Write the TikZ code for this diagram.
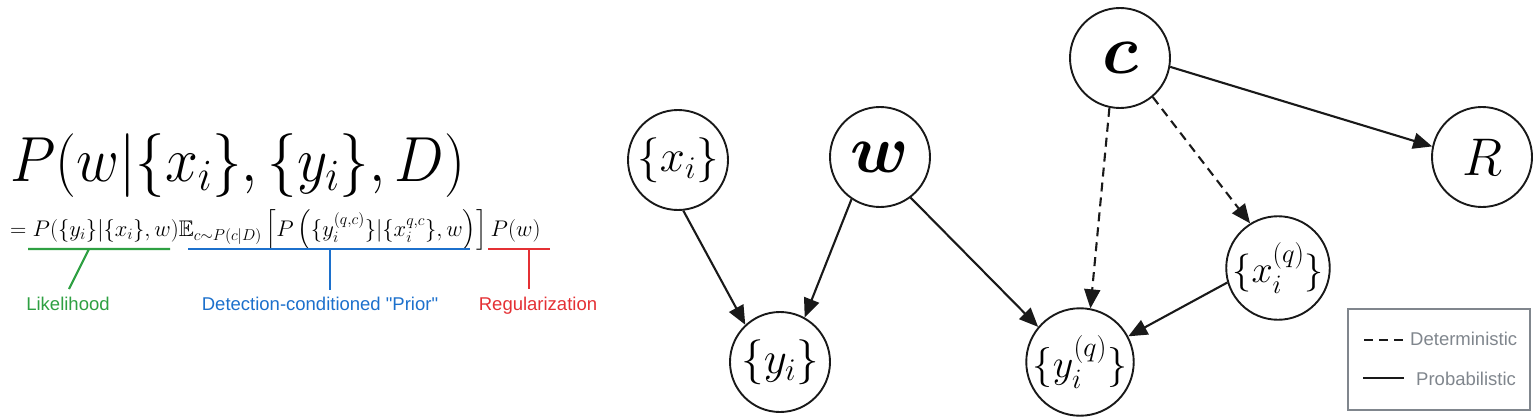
\RequirePackage{fix-cm}
\documentclass[tikz,border=0pt]{standalone}
\usepackage{amsmath,amssymb,bm}
\usepackage{fontspec}
\newfontfamily\lsans{Liberation Sans}
\usetikzlibrary{arrows.meta}
\definecolor{lgreen}{RGB}{46,160,66}
\definecolor{lblue}{RGB}{28,112,204}
\definecolor{lred}{RGB}{228,48,52}
\definecolor{lgray}{RGB}{128,134,141}
\definecolor{ink}{RGB}{25,25,25}
\tikzset{
  var/.style={circle,draw=ink,line width=1.9pt,minimum size=100pt,inner sep=0pt},
  arr/.style={draw=ink,line width=2.1pt,-{Triangle[length=19pt,width=16pt]}},
  detarr/.style={arr,dash pattern=on 9pt off 6pt},
  lbl/.style={font=\lsans\fontsize{18.5}{20}\selectfont,inner sep=0pt,anchor=base},
  brk/.style={line width=2.2pt}
}
\begin{document}
\begin{tikzpicture}[x=1pt,y=-1pt]
\path[use as bounding box] (0,0) rectangle (1540,420);
% formula
\node[anchor=base west,inner sep=0pt] (f1) at (10,181)
  {\scalebox{1}[1.08]{\fontsize{59}{62}\selectfont$P(w|\{x_i\},\{y_i\},D)$}};
\node[anchor=base west,inner sep=0pt] (f2) at (10,236)
  {\fontsize{22.6}{25}\selectfont$=P(\{y_i\}|\{x_i\},w)\mathbb{E}_{c\sim P(c|D)}\left[P\left(\{y_i^{(q,c)}\}|\{x_i^{q,c}\},w\right)\right]P(w)$};
% brackets
\coordinate (g1) at (28,249); \coordinate (g2) at (170,249);
\coordinate (gm) at (89,249); \coordinate (gl) at (69,289);
\draw[brk,lgreen] (g1) -- (g2) (gm) -- (gl);
\node[lbl,text=lgreen] (likel) at (68,310) {Likelihood};
\coordinate (b1) at (188,249); \coordinate (b2) at (470,249);
\coordinate (bm) at (330,249); \coordinate (bl) at (330,290);
\draw[brk,lblue] (b1) -- (b2) (bm) -- (bl);
\node[lbl,text=lblue] (prior) at (320,310) {Detection-conditioned "Prior"};
\coordinate (r1) at (488,249); \coordinate (r2) at (550,249);
\coordinate (rm) at (529,249); \coordinate (rl) at (529,289);
\draw[brk,lred] (r1) -- (r2) (rm) -- (rl);
\node[lbl,text=lred] (regul) at (538,310) {Regularization};
% graph nodes
\node[var] (xi) at (678,160) {\fontsize{45}{48}\selectfont$\{x_i\}$};
\node[var] (w) at (880,157) {\fontsize{68}{70}\selectfont$\bm{w}$};
\node[var] (c) at (1120,58) {\fontsize{70}{72}\selectfont$\bm{c}$};
\node[var] (R) at (1482,157) {\fontsize{53}{55}\selectfont$R$};
\node[var] (yi) at (780,362) {\fontsize{45}{48}\selectfont$\{y_i\}$};
\node[var] (yq) at (1080,362) {\fontsize{40}{42}\selectfont$\{y_i^{(q)}\}$};
\node[var] (xq) at (1278,268) {\fontsize{38}{40}\selectfont$\{x_i^{(q)}\}$};
% edges
\draw[arr] (xi.-84) -- (yi.133);
\draw[arr] (w.-124) -- (yi.61);
\draw[arr] (w.-53) -- (yq.140);
\draw[detarr] (c.-102) -- (yq.79);
\draw[detarr] (c.-50) -- (xq.122);
\draw[arr] (c.-10) -- (R.168);
\draw[arr] (xq.-164) -- (yq.28);
% legend
\node[draw=lgray,line width=2pt,minimum width=182pt,minimum height=101pt,inner sep=0pt] (leg) at (1439,359) {};
\coordinate (d1) at (1364,340); \coordinate (d2) at (1407,340);
\draw[ink,line width=2.1pt,dash pattern=on 9pt off 6pt] (d1) -- (d2);
\node[lbl,anchor=base west,text=lgray] (ldet) at (1410,345) {Deterministic};
\coordinate (s1) at (1363,378); \coordinate (s2) at (1404,378);
\draw[ink,line width=2.1pt] (s1) -- (s2);
\node[lbl,anchor=base west,text=lgray] (lpro) at (1416,385) {Probabilistic};
\end{tikzpicture}
\end{document}
